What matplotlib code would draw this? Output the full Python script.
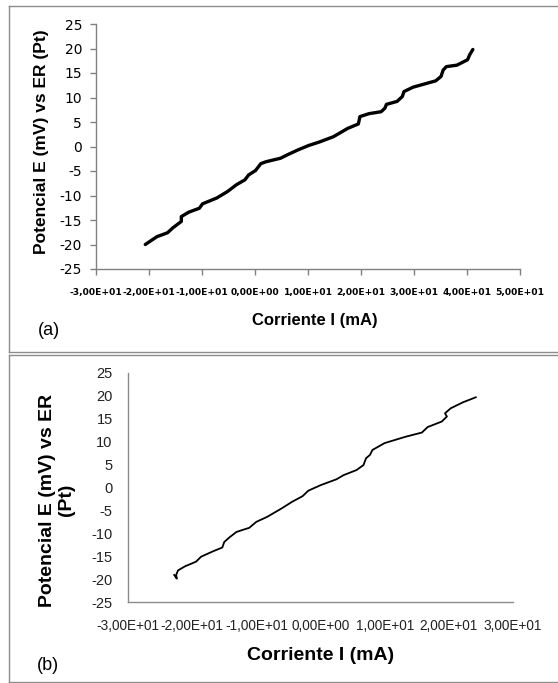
import matplotlib
matplotlib.use("Agg")
import matplotlib.pyplot as plt
from matplotlib.lines import Line2D
from matplotlib.ticker import FuncFormatter, MultipleLocator

plt.rcParams["axes.unicode_minus"] = False

# panel (a) data
xa = [-20.7, -18.5, -16.5, -15.5, -13.9, -13.9, -12.5, -10.5, -9.9, -7.2, -5.2, -3.5,
      -1.9, -1.2, 0.1, 1.1, 2.1, 4.8, 6.1, 8.1, 10.1, 12.1, 14.8, 17.5, 19.5, 19.8,
      21.5, 23.8, 24.5, 24.8, 26.8, 27.8, 28.1, 29.8, 34.1, 35.1, 35.5, 36.1, 38.1,
      40.1, 40.5, 41.1]
ya = [-20.0, -18.4, -17.6, -16.6, -15.3, -14.3, -13.4, -12.6, -11.7, -10.5, -9.2, -7.8,
      -6.8, -5.8, -4.9, -3.5, -3.1, -2.4, -1.7, -0.7, 0.2, 0.9, 2.0, 3.7, 4.6, 6.1,
      6.7, 7.1, 7.8, 8.6, 9.2, 10.2, 11.2, 12.1, 13.4, 14.3, 15.6, 16.3, 16.6,
      17.7, 18.7, 19.8]

# panel (b) data
xb = [-22.8, -22.4, -22.5, -22.2, -21.1, -19.4, -18.6, -16.7, -15.3, -15.0, -14.2, -13.1,
      -11.1, -10.0, -8.3, -6.1, -4.4, -2.8, -1.9, 0.0, 2.5, 3.6, 5.6, 6.7, 7.1, 7.7,
      8.1, 10.0, 13.3, 15.8, 16.7, 18.9, 19.7, 19.4, 20.3, 22.2, 24.2]
yb = [-19.1, -19.9, -19.1, -18.1, -17.2, -16.2, -15.1, -13.9, -13.1, -11.9, -10.9, -9.7,
      -8.8, -7.5, -6.4, -4.6, -3.1, -1.9, -0.7, 0.5, 1.8, 2.7, 3.8, 4.9, 6.4, 7.1,
      8.2, 9.7, 11.1, 12.0, 13.2, 14.4, 15.5, 16.2, 17.3, 18.6, 19.7]

W, H = 558, 683


def fx(px):
    return px / W


def fy(py):
    return 1 - py / H


def sci_comma(v, pos):
    return f"{v:.2E}".replace(".", ",")


fig = plt.figure(figsize=(W / 100, H / 100), dpi=100)

# frames around both panels
frame = "#8c8c8c"
for seg in [((9, 6), (W, 6)), ((9, 6), (9, 352)), ((9, 352), (W, 352)),
            ((9, 355), (W, 355)), ((9, 355), (9, 682)), ((9, 682), (W, 682))]:
    (x0, y0), (x1, y1) = seg
    fig.add_artist(Line2D([fx(x0), fx(x1)], [fy(y0), fy(y1)], color=frame, lw=1.0,
                          transform=fig.transFigure))

# ---- panel (a)
ax1 = fig.add_axes([fx(96), fy(269), fx(520) - fx(96), fy(24) - fy(269)])
ax1.plot(xa, ya, color="black", lw=2.4, solid_capstyle="round", solid_joinstyle="round")
ax1.set_xlim(-30, 50)
ax1.set_ylim(-25, 25)
ax1.xaxis.set_major_locator(MultipleLocator(10))
ax1.yaxis.set_major_locator(MultipleLocator(5))
ax1.xaxis.set_major_formatter(FuncFormatter(sci_comma))
for s in ["top", "right"]:
    ax1.spines[s].set_visible(False)
for s in ["left", "bottom"]:
    ax1.spines[s].set_color("#808080")
    ax1.spines[s].set_linewidth(1.0)
ax1.tick_params(axis="both", direction="out", length=4, width=1, color="#808080")
ax1.tick_params(axis="y", pad=6, labelsize=10)
ax1.tick_params(axis="x", pad=10, labelsize=6.6)
for t in ax1.get_xticklabels():
    t.set_fontweight("bold")

fig.text(fx(42), fy(142), "Potencial E (mV) vs ER (Pt)", rotation=90, ha="center",
         va="center", fontsize=12.5, fontweight="bold", family="Liberation Sans")
fig.text(fx(315), fy(320), "Corriente I (mA)", ha="center", va="center",
         fontsize=12, fontweight="bold", family="Liberation Sans")
fig.text(fx(49), fy(330), "(a)", ha="center", va="center", fontsize=13,
         family="Liberation Sans")

# ---- panel (b)
ax2 = fig.add_axes([fx(128), fy(602), fx(513) - fx(128), fy(373) - fy(602)])
ax2.plot(xb, yb, color="black", lw=1.3, solid_joinstyle="round")
ax2.set_xlim(-30, 30)
ax2.set_ylim(-25, 25)
ax2.xaxis.set_major_locator(MultipleLocator(10))
ax2.yaxis.set_major_locator(MultipleLocator(5))
ax2.xaxis.set_major_formatter(FuncFormatter(sci_comma))
for s in ["top", "right"]:
    ax2.spines[s].set_visible(False)
for s in ["left", "bottom"]:
    ax2.spines[s].set_color("#8c8c8c")
    ax2.spines[s].set_linewidth(1.0)
ax2.tick_params(axis="y", length=0, labelsize=10.5, labelcolor="#222222", pad=11)
ax2.tick_params(axis="x", length=0, labelsize=9.8, labelcolor="#222222", pad=12)
for t in ax2.get_xticklabels() + ax2.get_yticklabels():
    t.set_family("Liberation Sans")

fig.text(fx(57), fy(500), "Potencial E (mV) vs ER\n(Pt)", rotation=90, ha="center",
         va="center", multialignment="center", fontsize=14, fontweight="bold",
         family="Liberation Sans", linespacing=1.1)
fig.text(fx(321), fy(655), "Corriente I (mA)", ha="center", va="center",
         fontsize=14, fontweight="bold", family="Liberation Sans")
fig.text(fx(48), fy(665), "(b)", ha="center", va="center", fontsize=13,
         family="Liberation Sans")

fig.savefig("out.png", dpi=100)
